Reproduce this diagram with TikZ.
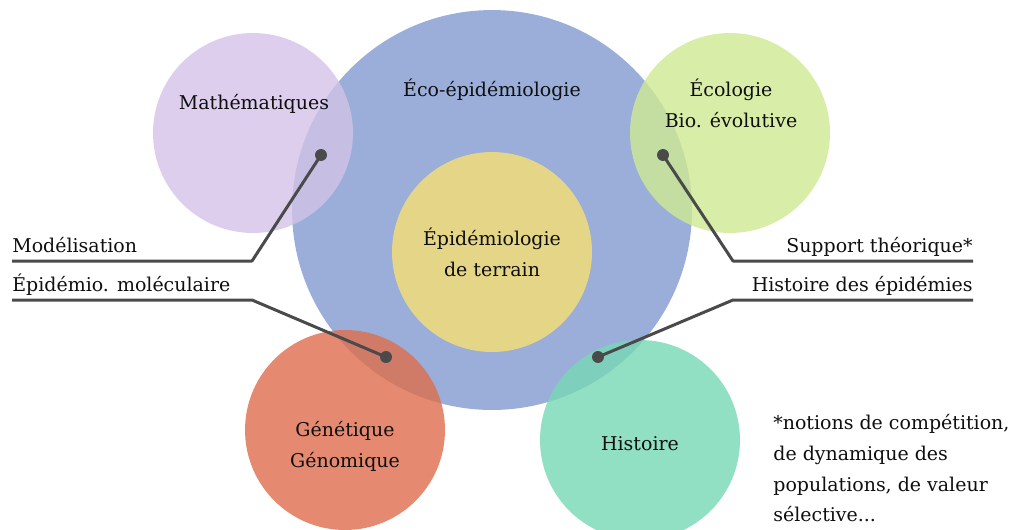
\documentclass[tikz,border=0pt]{standalone}
\usepackage{fontspec}
\setmainfont{DejaVu Serif}

% couleurs
\definecolor{bleu}{RGB}{154,174,217}
\definecolor{jaune}{RGB}{229,213,135}
\definecolor{mauve}{RGB}{211,194,231}
\definecolor{vert}{RGB}{206,234,146}
\definecolor{rouge}{RGB}{222,109,76}
\definecolor{turquoise}{RGB}{119,216,181}
\definecolor{gris}{RGB}{74,74,74}
\definecolor{encre}{RGB}{15,15,15}

\begin{document}
\begin{tikzpicture}[x=0.02cm,y=-0.02cm,
    every node/.style={font=\fontsize{10.8}{17.5}\selectfont, text=encre},
    disque/.style={circle, inner sep=0pt, minimum size=#1},
    renvoi/.style={draw=gris, line width=1.7pt, line join=round}]

    % cadre
    \useasboundingbox (0,0) rectangle (1011,529);

    % grand disque et disque central
    \node[disque=8cm, fill=bleu] (eco) at (492,210) {};
    \node[disque=4cm, fill=jaune] (terrain) at (492,252) {};

    % disques autour, un peu transparents
    \node[disque=4cm, fill=mauve, fill opacity=0.8] (math) at (253,133) {};
    \node[disque=4cm, fill=vert, fill opacity=0.8] (ecol) at (730,133) {};
    \node[disque=4cm, fill=rouge, fill opacity=0.8] (gen) at (345,430) {};
    \node[disque=4cm, fill=turquoise, fill opacity=0.8] (hist) at (640,440) {};

    % textes des disques
    \node (teco) at (492,90) {Éco-épidémiologie};
    \node[align=center] (tterrain) at (492,252) {Épidémiologie\\de terrain};
    \node (tmath) at (254,104) {Mathématiques};
    \node[align=center] (tecol) at (731,103) {Écologie\\Bio. évolutive};
    \node[align=center] (tgen) at (345,446) {Génétique\\Génomique};
    \node (thist) at (640,444) {Histoire};

    % points et coudes des renvois
    \coordinate (pmath) at (321,155);
    \coordinate (pecol) at (663,155);
    \coordinate (pgen) at (386,357);
    \coordinate (phist) at (598,357);
    \coordinate (cmath) at (252,261);
    \coordinate (cgen) at (252,300);
    \coordinate (cecol) at (733,261);
    \coordinate (chist) at (733,300);

    % libellés
    \node[anchor=base west, inner sep=0pt] (lmod) at (12,252) {Modélisation};
    \node[anchor=base west, inner sep=0pt] (lmol) at (12,291) {Épidémio. moléculaire};
    \node[anchor=base east, inner sep=0pt] (lsup) at (973,252) {Support théorique*};
    \node[anchor=base east, inner sep=0pt] (lhis) at (973,291) {Histoire des épidémies};

    % traits
    \draw[renvoi] (pmath) -- (cmath) -- (lmod.west |- cmath);
    \draw[renvoi] (pgen) -- (cgen) -- (lmol.west |- cgen);
    \draw[renvoi] (pecol) -- (cecol) -- (lsup.east |- cecol);
    \draw[renvoi] (phist) -- (chist) -- (lhis.east |- chist);
    \foreach \p in {pmath,pecol,pgen,phist}
        \fill[gris] (\p) circle (3.4pt);

    % note
    \node[anchor=north west, align=left, inner sep=0pt] (note) at (773,414)
        {*notions de compétition,\\de dynamique des\\populations, de valeur\\sélective...};

\end{tikzpicture}
\end{document}
